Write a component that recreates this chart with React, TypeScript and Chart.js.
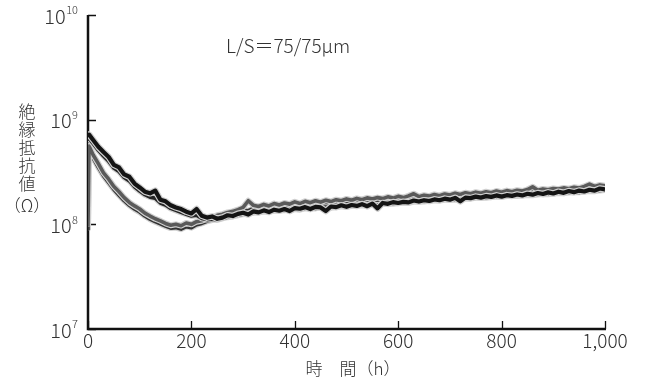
import React, { useEffect, useRef } from "react";
import { Chart, registerables } from "chart.js";

Chart.register(...registerables);

// Time (h)
const TIME_H = [
  0, 2, 10, 20, 30, 40, 50, 60, 70, 80, 90, 100, 110, 120, 130, 140, 150, 160, 170, 180, 190,
  200, 210, 220, 230, 240, 250, 260, 270, 280, 290, 300, 310, 320, 330, 340, 350, 360, 370, 380, 390,
  400, 410, 420, 430, 440, 450, 460, 470, 480, 490, 500, 510, 520, 530, 540, 550, 560, 570, 580, 590,
  600, 610, 620, 630, 640, 650, 660, 670, 680, 690, 700, 710, 720, 730, 740, 750, 760, 770, 780, 790,
  800, 810, 820, 830, 840, 850, 860, 870, 880, 890, 900, 910, 920, 930, 940, 950, 960, 970, 980, 990,
  1000,
];

// Insulation resistance, in units of 10^8 Ω
const SAMPLE_1 = [
  6.9, 7.2, 6.4, 5.5, 4.9, 4.4, 3.7, 3.5, 3.0, 2.85, 2.45, 2.25, 2.05, 1.98, 2.1, 1.72, 1.66, 1.52, 1.45, 1.4, 1.32,
  1.27, 1.4, 1.21, 1.16, 1.19, 1.13, 1.16, 1.22, 1.2, 1.26, 1.29, 1.24, 1.33, 1.3, 1.36, 1.31, 1.38, 1.35, 1.4, 1.34,
  1.43, 1.41, 1.46, 1.4, 1.47, 1.45, 1.34, 1.48, 1.46, 1.52, 1.47, 1.53, 1.5, 1.56, 1.49, 1.58, 1.42, 1.6, 1.57, 1.63,
  1.6, 1.64, 1.62, 1.69, 1.65, 1.7, 1.67, 1.73, 1.7, 1.76, 1.72, 1.79, 1.66, 1.8, 1.78, 1.84, 1.8, 1.86, 1.83, 1.89,
  1.84, 1.9, 1.87, 1.93, 1.89, 1.96, 1.92, 1.99, 1.95, 2.02, 1.97, 2.05, 2.0, 2.08, 2.03, 2.1, 2.06, 2.14, 2.1, 2.2,
  2.16,
];
const SAMPLE_2 = [
  6.3, 6.6, 5.9, 5.1, 4.5, 4.0, 3.45, 3.2, 2.8, 2.6, 2.28, 2.08, 1.92, 1.82, 1.78, 1.6, 1.53, 1.42, 1.36, 1.3, 1.25,
  1.2, 1.22, 1.14, 1.11, 1.12, 1.1, 1.14, 1.17, 1.19, 1.22, 1.25, 1.27, 1.29, 1.31, 1.32, 1.34, 1.35, 1.37, 1.36, 1.39,
  1.4, 1.38, 1.42, 1.43, 1.42, 1.45, 1.46, 1.44, 1.47, 1.49, 1.48, 1.5, 1.52, 1.51, 1.54, 1.55, 1.53, 1.56, 1.58, 1.57,
  1.6, 1.62, 1.61, 1.64, 1.66, 1.65, 1.68, 1.7, 1.69, 1.72, 1.73, 1.72, 1.75, 1.77, 1.76, 1.79, 1.8, 1.79, 1.82, 1.84,
  1.83, 1.86, 1.87, 1.86, 1.89, 1.91, 1.9, 1.93, 1.95, 1.94, 1.97, 1.99, 1.98, 2.01, 2.03, 2.02, 2.06, 2.08, 2.07, 2.11,
  2.13,
];
const SAMPLE_3 = [
  0.95, 5.6, 4.6, 3.8, 3.1, 2.7, 2.3, 2.05, 1.8, 1.62, 1.5, 1.4, 1.28, 1.2, 1.13, 1.08, 1.02, 0.98, 1.0, 0.97, 1.03,
  1.0, 1.06, 1.08, 1.13, 1.16, 1.22, 1.25, 1.3, 1.33, 1.38, 1.45, 1.68, 1.52, 1.48, 1.55, 1.5, 1.58, 1.53, 1.6, 1.56,
  1.64, 1.58, 1.66, 1.61, 1.68, 1.63, 1.7, 1.65, 1.72, 1.68, 1.75, 1.7, 1.77, 1.72, 1.79, 1.75, 1.8, 1.76, 1.83, 1.78,
  1.85, 1.8, 1.87, 1.96, 1.84, 1.9, 1.86, 1.93, 1.88, 1.95, 1.91, 1.98, 1.93, 2.0, 1.96, 2.03, 1.98, 2.05, 2.0, 2.08,
  2.03, 2.1, 2.05, 2.12, 2.08, 2.15, 2.28, 2.12, 2.18, 2.14, 2.2, 2.17, 2.23, 2.19, 2.26, 2.22, 2.3, 2.42, 2.3, 2.38,
  2.33,
];
const SAMPLE_4 = [
  0.88, 5.1, 4.3, 3.5, 2.9, 2.5, 2.15, 1.9, 1.68, 1.52, 1.4, 1.31, 1.2, 1.12, 1.06, 1.01, 0.96, 0.92, 0.93, 0.9, 0.95,
  0.93, 0.99, 1.02, 1.07, 1.1, 1.15, 1.19, 1.23, 1.26, 1.3, 1.36, 1.35, 1.42, 1.4, 1.46, 1.42, 1.48, 1.45, 1.51, 1.48,
  1.54, 1.5, 1.56, 1.52, 1.58, 1.54, 1.6, 1.56, 1.62, 1.59, 1.65, 1.61, 1.67, 1.63, 1.69, 1.66, 1.71, 1.67, 1.73, 1.69,
  1.75, 1.71, 1.77, 1.74, 1.76, 1.8, 1.77, 1.83, 1.79, 1.85, 1.81, 1.88, 1.84, 1.9, 1.87, 1.93, 1.89, 1.95, 1.91, 1.98,
  1.94, 2.0, 1.96, 2.02, 1.99, 2.05, 2.07, 2.03, 2.08, 2.05, 2.11, 2.08, 2.13, 2.1, 2.16, 2.13, 2.19, 2.23, 2.21, 2.27,
  2.23,
];

const X_TICKS = [0, 200, 400, 600, 800, 1000];
const X_TICK_LABELS = ["0", "200", "400", "600", "800", "1,000"];
const Y_EXPONENTS = [7, 8, 9, 10];
const Y_TITLE_CHARS = ["絶", "縁", "抵", "抗", "値"];
const Y_TITLE_UNIT = "（Ω）";
const X_TITLE = "時　間（h）";
const NOTE = "L/S＝75/75μm";

const UNIT = 1e8;
const FONT = '"Noto Sans CJK JP", "Noto Sans", sans-serif';

const SERIES = [
  { values: SAMPLE_4, color: "#333333", width: 3.6 },
  { values: SAMPLE_3, color: "#5a5a5a", width: 3.6 },
  { values: SAMPLE_2, color: "#242424", width: 3.6 },
  { values: SAMPLE_1, color: "#141414", width: 4.2 },
];

const decorPlugin = {
  id: "decor",
  beforeDatasetsDraw(chart: any) {
    const { ctx, chartArea, scales } = chart;
    const xs = scales.x;
    const ys = scales.y;
    ctx.save();
    ctx.strokeStyle = "#111";
    ctx.lineCap = "butt";
    // axis lines
    ctx.lineWidth = 2.5;
    ctx.beginPath();
    ctx.moveTo(chartArea.left, chartArea.top);
    ctx.lineTo(chartArea.left, chartArea.bottom);
    ctx.lineTo(chartArea.right + 1, chartArea.bottom);
    ctx.stroke();
    // inward ticks
    ctx.lineWidth = 1.3;
    ctx.beginPath();
    Y_EXPONENTS.forEach((e) => {
      const py = Math.round(ys.getPixelForValue(Math.pow(10, e))) + 0.5;
      ctx.moveTo(chartArea.left, py);
      ctx.lineTo(chartArea.left + 8, py);
    });
    X_TICKS.forEach((t) => {
      const px = Math.round(xs.getPixelForValue(t)) + 0.5;
      ctx.moveTo(px, chartArea.bottom);
      ctx.lineTo(px, chartArea.bottom - 8);
    });
    ctx.stroke();

    // y tick labels 10^n
    ctx.fillStyle = "#333";
    const xEnd = chartArea.left - 10;
    Y_EXPONENTS.forEach((e) => {
      const py = ys.getPixelForValue(Math.pow(10, e));
      const sup = String(e);
      ctx.font = `300 11px ${FONT}`;
      const supW = ctx.measureText(sup).width;
      ctx.textBaseline = "middle";
      ctx.textAlign = "left";
      ctx.fillText(sup, xEnd - supW, py - 5);
      ctx.font = `300 20px ${FONT}`;
      ctx.textAlign = "right";
      ctx.fillText("10", xEnd - supW - 0.5, py + 1);
    });

    // x tick labels
    ctx.font = `300 19px ${FONT}`;
    ctx.textAlign = "center";
    ctx.textBaseline = "middle";
    X_TICKS.forEach((t, i) => {
      const px = xs.getPixelForValue(t);
      ctx.fillText(X_TICK_LABELS[i], px, chartArea.bottom + 12);
    });

    // x title
    ctx.font = `300 17px ${FONT}`;
    ctx.fillText(X_TITLE, 353, 369);

    // y title (vertical)
    Y_TITLE_CHARS.forEach((c, i) => {
      ctx.fillText(c, 27, 112 + i * 18);
    });
    ctx.fillText(Y_TITLE_UNIT, 27, 206);

    // note
    ctx.font = `300 19px ${FONT}`;
    ctx.textAlign = "left";
    ctx.fillText(NOTE, 226, 46);
    ctx.restore();
  },
};

export default function App() {
  const ref = useRef<HTMLCanvasElement | null>(null);
  useEffect(() => {
    if (!ref.current) return;
    const datasets: any[] = [];
    SERIES.forEach((s, k) => {
      const pts = TIME_H.map((t, i) => ({ x: t, y: s.values[i] * UNIT }));
      const base = (SERIES.length - k) * 2;
      datasets.push({
        data: pts,
        borderColor: "#d0d0d0",
        borderWidth: s.width + 2.4,
        pointRadius: 0,
        tension: 0,
        order: base + 1,
        borderJoinStyle: "round",
      });
      datasets.push({
        data: pts,
        borderColor: s.color,
        borderWidth: s.width,
        pointRadius: 0,
        tension: 0,
        order: base,
        borderJoinStyle: "round",
      });
    });
    const chart = new Chart(ref.current, {
      type: "line",
      data: { datasets },
      options: {
        animation: false,
        responsive: false,
        devicePixelRatio: 1,
        layout: { padding: { top: 15, right: 45, bottom: 0, left: 0 } },
        plugins: { legend: { display: false }, tooltip: { enabled: false } },
        scales: {
          x: {
            type: "linear",
            min: 0,
            max: 1000,
            grid: { display: false, drawTicks: false },
            border: { display: false },
            ticks: { display: false, stepSize: 200 },
            afterFit: (s: any) => {
              s.height = 52;
            },
          },
          y: {
            type: "logarithmic",
            min: 1e7,
            max: 1e10,
            grid: { display: false, drawTicks: false },
            border: { display: false },
            ticks: { display: false },
            afterFit: (s: any) => {
              s.width = 88;
            },
          },
        },
      },
      plugins: [decorPlugin],
    });
    return () => chart.destroy();
  }, []);
  return (
    <div style={{ position: "fixed", left: 0, top: 0, width: 650, height: 381, background: "#fff" }}>
      <canvas ref={ref} width={650} height={381} style={{ display: "block", width: 650, height: 381 }} />
    </div>
  );
}
